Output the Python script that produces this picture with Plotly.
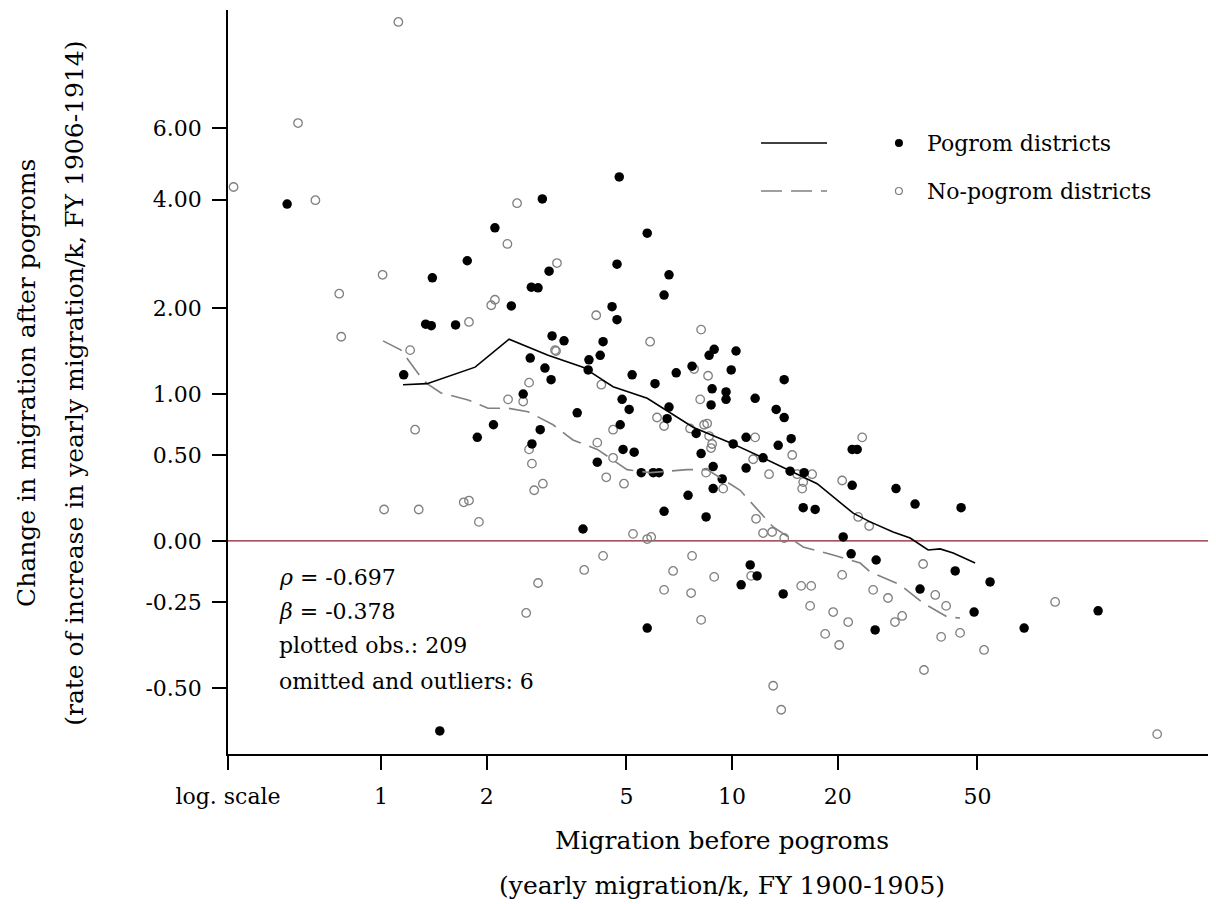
import numpy as np
import plotly.graph_objects as go

# ---------------- data ----------------
# Pogrom districts: migration before pogroms (yearly migration/k) and change after
pog_x = [0.54, 2.88, 2.11, 1.76, 3.01, 1.40, 4.77, 5.73, 4.70, 6.61,
         6.40, 4.55, 4.70, 2.68, 2.80, 2.35, 1.34, 1.39, 1.63, 3.07,
         2.66, 2.93, 3.05, 1.16, 2.54, 2.09, 1.88, 2.84, 2.69, 3.32,
         4.29, 4.21, 3.91, 3.89, 8.89, 8.60, 10.26, 9.94, 14.07, 7.69,
         6.93, 6.03, 5.19, 8.77, 9.61, 9.61, 8.71, 11.63, 4.86, 5.09,
         3.62, 6.61, 6.53, 13.35, 14.07, 4.80, 7.90, 10.07, 10.96, 13.53,
         14.73, 21.98, 22.71, 4.89, 5.26, 8.16, 12.25, 4.13, 8.83, 10.96,
         5.51, 5.96, 6.19, 14.63, 16.04, 9.37, 8.83, 21.98, 7.49, 15.94,
         17.24, 6.40, 8.43, 3.76, 20.72, 29.3, 33.2, 44.9, 21.83, 11.26,
         11.78, 10.61, 13.98, 5.73, 1.47, 25.72, 43.2, 54.3, 34.3, 48.9,
         25.55, 110.3, 67.9]
pog_y = [3.90, 4.02, 3.38, 2.75, 2.57, 2.46, 4.57, 3.27, 2.69, 2.51,
         2.19, 2.02, 1.84, 2.31, 2.30, 2.03, 1.78, 1.76, 1.77, 1.63,
         1.37, 1.26, 1.14, 1.19, 1.00, 0.73, 0.63, 0.69, 0.58, 1.57,
         1.56, 1.40, 1.35, 1.24, 1.47, 1.40, 1.45, 1.24, 1.14, 1.28,
         1.21, 1.10, 1.19, 1.05, 1.02, 0.95, 0.90, 0.96, 0.95, 0.86,
         0.83, 0.88, 0.78, 0.86, 0.79, 0.73, 0.66, 0.58, 0.63, 0.57,
         0.62, 0.54, 0.54, 0.54, 0.52, 0.51, 0.48, 0.45, 0.42, 0.41,
         0.38, 0.38, 0.38, 0.39, 0.38, 0.34, 0.28, 0.30, 0.24, 0.17,
         0.16, 0.15, 0.12, 0.058, 0.019, 0.28, 0.19, 0.17, -0.059, -0.107,
         -0.152, -0.187, -0.221, -0.337, -0.592, -0.086, -0.132, -0.176, -0.203, -0.285,
         -0.343, -0.281, -0.337]

# No-pogrom districts
nop_x = [1.12, 0.58, 0.38, 0.65, 2.44, 2.29, 3.17, 1.01, 0.76, 2.11,
         2.06, 0.77, 1.78, 1.21, 3.13, 2.64, 2.30, 2.54, 1.25, 2.64,
         2.69, 2.89, 2.73, 1.02, 1.28, 1.78, 1.72, 1.90, 4.10, 3.15,
         5.84, 8.16, 8.54, 7.79, 8.11, 4.24, 6.11, 6.40, 4.58, 7.59,
         8.32, 8.49, 8.60, 11.63, 8.77, 8.71, 23.47, 4.13, 14.83, 11.48,
         4.58, 4.38, 4.92, 8.43, 15.32, 16.90, 15.94, 15.83, 12.74, 9.43,
         20.58, 11.70, 22.86, 24.57, 5.22, 5.73, 5.88, 12.25, 13.00, 14.07,
         2.80, 2.59, 4.29, 3.79, 7.69, 6.79, 6.40, 7.64, 8.89, 11.33,
         15.73, 16.80, 16.68, 20.58, 19.40, 21.41, 18.41, 20.18, 8.16, 13.09,
         13.80, 35.0, 25.22, 27.8, 37.9, 40.7, 30.5, 29.1, 39.4, 44.6,
         52.2, 35.2, 83.2, 162.5]
nop_y = [10.57, 6.18, 4.31, 3.99, 3.92, 3.06, 2.71, 2.51, 2.21, 2.12,
         2.04, 1.62, 1.81, 1.46, 1.46, 1.11, 0.95, 0.93, 0.69, 0.54,
         0.44, 0.31, 0.27, 0.16, 0.16, 0.21, 0.20, 0.094, 1.90, 1.45,
         1.56, 1.71, 1.18, 1.25, 0.95, 1.09, 0.79, 0.72, 0.69, 0.70,
         0.73, 0.74, 0.64, 0.63, 0.58, 0.55, 0.63, 0.59, 0.50, 0.47,
         0.48, 0.35, 0.31, 0.38, 0.37, 0.37, 0.32, 0.28, 0.37, 0.28,
         0.33, 0.11, 0.12, 0.073, 0.034, 0.009, 0.019, 0.038, 0.043, 0.014,
         -0.180, -0.288, -0.068, -0.128, -0.068, -0.132, -0.206, -0.218, -0.156, -0.152,
         -0.191, -0.191, -0.264, -0.148, -0.285, -0.318, -0.355, -0.388, -0.311, -0.495,
         -0.549, -0.103, -0.206, -0.236, -0.225, -0.264, -0.298, -0.318, -0.364, -0.352,
         -0.402, -0.456, -0.250, -0.598]

# Smoothed (local) fits
fit_pog_x = [1.155, 1.352, 1.853, 2.316, 2.99, 3.76, 4.58, 5.73, 7.74, 9.87,
             12.02, 14.92, 17.47, 22.12, 24.73, 28.75, 32.15, 36.17, 39.14, 42.63, 49.24]
fit_pog_y = [1.09, 1.10, 1.27, 1.59, 1.40, 1.27, 1.07, 0.96, 0.71, 0.59,
             0.49, 0.38, 0.31, 0.14, 0.094, 0.043, 0.014, -0.042, -0.037, -0.055, -0.099]

fit_nop_x = [1.013, 1.140, 1.283, 1.352, 1.482, 1.77, 2.017, 2.30, 2.62, 3.09,
             3.52, 4.13, 5.02, 5.84, 7.44, 8.49, 10.54, 13.09, 15.94, 19.40,
             23.16, 24.73, 30.1, 35.0, 40.98, 44.6]
fit_nop_y = [1.57, 1.46, 1.19, 1.10, 1.01, 0.945, 0.87, 0.87, 0.84, 0.73,
             0.61, 0.54, 0.40, 0.38, 0.40, 0.40, 0.27, 0.068, -0.028, -0.064,
             -0.099, -0.136, -0.187, -0.254, -0.301, -0.305]

y_tick_vals = [-0.5, -0.25, 0.0, 0.5, 1.0, 2.0, 4.0, 6.0]
y_tick_text = ["-0.50", "-0.25", "0.00", "0.50", "1.00", "2.00", "4.00", "6.00"]
x_tick_vals = [1, 2, 5, 10, 20, 50]
x_tick_text = ["1", "2", "5", "10", "20", "50"]
x_min, x_max = 0.3664, 239.0
y_min, y_max = -0.634, 11.24

stats_lines = ["<i>ρ</i> = -0.697", "<i>β</i> = -0.378",
               "plotted obs.: 209", "omitted and outliers: 6"]

# ---------------- figure ----------------
FONT = "DejaVu Serif"
tr = np.log1p  # vertical scale: log(1 + change)

fig = go.Figure()
fig.add_trace(go.Scatter(x=nop_x, y=tr(np.array(nop_y)), mode="markers",
                         marker=dict(symbol="circle-open", size=8.5, color="#7f7f7f",
                                     line=dict(width=1.3, color="#7f7f7f")),
                         showlegend=False))
fig.add_trace(go.Scatter(x=pog_x, y=tr(np.array(pog_y)), mode="markers",
                         marker=dict(symbol="circle", size=9.5, color="black"),
                         showlegend=False))
fig.add_trace(go.Scatter(x=fit_nop_x, y=tr(np.array(fit_nop_y)), mode="lines",
                         line=dict(color="#808080", width=1.6, dash="21px,9px"),
                         showlegend=False))
fig.add_trace(go.Scatter(x=fit_pog_x, y=tr(np.array(fit_pog_y)), mode="lines",
                         line=dict(color="black", width=1.6),
                         showlegend=False))

shapes = [
    dict(type="line", xref="paper", yref="y", x0=0, x1=1, y0=0, y1=0,
         line=dict(color="#8b1a2e", width=1.2), layer="below"),
    # legend samples
    dict(type="line", xref="paper", yref="paper", x0=0.5395, x1=0.6063,
         y0=0.8212, y1=0.8212, line=dict(color="black", width=1.6)),
    dict(type="line", xref="paper", yref="paper", x0=0.5395, x1=0.6063,
         y0=0.7567, y1=0.7567, line=dict(color="#808080", width=1.6, dash="21px,9px")),
    dict(type="circle", xref="paper", yref="paper", xsizemode="pixel", ysizemode="pixel",
         xanchor=0.6791, yanchor=0.8212, x0=-4, x1=4, y0=-4, y1=4,
         fillcolor="black", line=dict(color="black", width=0)),
    dict(type="circle", xref="paper", yref="paper", xsizemode="pixel", ysizemode="pixel",
         xanchor=0.6791, yanchor=0.7567, x0=-3.5, x1=3.5, y0=-3.5, y1=3.5,
         fillcolor="white", line=dict(color="#7f7f7f", width=1.2)),
]

annotations = [
    dict(text="Pogrom districts", xref="paper", yref="paper", x=0.7055, y=0.8212,
         xanchor="left", yanchor="middle", showarrow=False,
         font=dict(family=FONT, size=22, color="black")),
    dict(text="No-pogrom districts", xref="paper", yref="paper", x=0.7055, y=0.7567,
         xanchor="left", yanchor="middle", showarrow=False,
         font=dict(family=FONT, size=22, color="black")),
    dict(text="Migration before pogroms", xref="paper", yref="paper", x=0.5, y=-0.1156,
         xanchor="center", yanchor="middle", showarrow=False,
         font=dict(family=FONT, size=25, color="black")),
    dict(text="(yearly migration/k, FY 1900-1905)", xref="paper", yref="paper", x=0.5,
         y=-0.1774, xanchor="center", yanchor="middle", showarrow=False,
         font=dict(family=FONT, size=25, color="black")),
    dict(text="Change in migration after pogroms", xref="paper", yref="paper",
         x=-0.2035, y=0.4987, xanchor="center", yanchor="middle", textangle=-90,
         showarrow=False, font=dict(family=FONT, size=25, color="black")),
    dict(text="(rate of increase in yearly migration/k, FY 1906-1914)", xref="paper",
         yref="paper", x=-0.155, y=0.4987, xanchor="center", yanchor="middle",
         textangle=-90, showarrow=False, font=dict(family=FONT, size=25, color="black")),
]
for txt, yp in zip(stats_lines, [0.2379, 0.1922, 0.1465, 0.0981]):
    annotations.append(dict(text=txt, xref="paper", yref="paper", x=0.0496, y=yp,
                            xanchor="left", yanchor="middle", showarrow=False,
                            font=dict(family=FONT, size=22, color="black")))

# page body adds an 8px offset; shrink the figure so the plot area lands where the reference has it
fig.update_layout(
    width=1208, height=896,
    margin=dict(l=220, r=0, t=2, b=150),
    paper_bgcolor="white", plot_bgcolor="white",
    shapes=shapes, annotations=annotations,
    font=dict(family=FONT, size=22, color="black"),
    showlegend=False,
)
fig.update_xaxes(type="log", range=[np.log10(x_min), np.log10(x_max)],
                 tickvals=[x_min] + x_tick_vals, ticktext=["log. scale"] + x_tick_text,
                 ticks="outside", ticklen=14, tickwidth=1.5, tickcolor="black",
                 showline=True, linecolor="black", linewidth=1.5,
                 showgrid=False, zeroline=False, ticklabelstandoff=8,
                 tickfont=dict(family=FONT, size=22, color="black"))
fig.update_yaxes(range=[tr(y_min), tr(y_max)],
                 tickvals=list(tr(np.array(y_tick_vals))), ticktext=y_tick_text,
                 ticks="outside", ticklen=14, tickwidth=1.5, tickcolor="black",
                 showline=True, linecolor="black", linewidth=1.5,
                 showgrid=False, zeroline=False, ticklabelstandoff=6,
                 tickfont=dict(family=FONT, size=22, color="black"))

fig.write_html("out.html")
